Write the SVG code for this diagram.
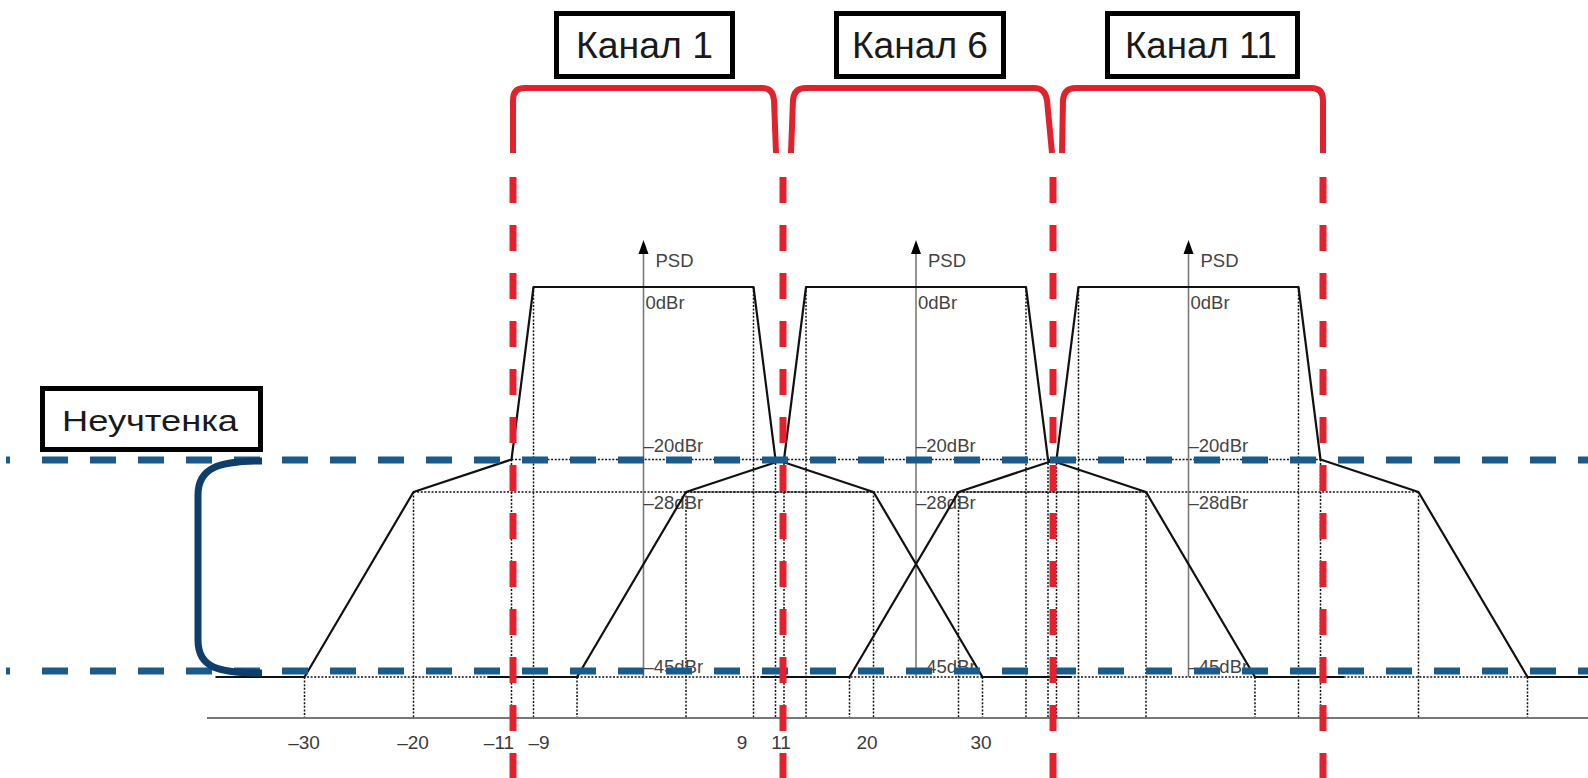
<svg xmlns="http://www.w3.org/2000/svg" width="1588" height="778" viewBox="0 0 1588 778">
<style>
.box{fill:#fff;stroke:#000;stroke-width:5}
.boxtxt{font-family:"Liberation Sans",Arial,sans-serif;font-size:36px;fill:#1a1a1a;text-anchor:middle}
.lbl{font-family:"Liberation Sans",Arial,sans-serif;font-size:18.5px;fill:#444}
.tick{font-family:"Liberation Sans",Arial,sans-serif;font-size:19px;fill:#3a3a3a;text-anchor:middle}
.dot{stroke:#111;stroke-width:1.5;stroke-dasharray:2 1.6;fill:none}
.curve{stroke:#111;stroke-width:2.2;fill:none;stroke-linejoin:round}
.axis{stroke:#7a7a7a;stroke-width:1.6;fill:none}
.blue{stroke:#1a5b8c;stroke-width:7;stroke-dasharray:26 22;fill:none}
.red{stroke:#e1212c;stroke-width:7;stroke-dasharray:26 22;fill:none}
.brk{stroke:#e1212c;stroke-width:6;fill:none;stroke-linejoin:round}
</style>
<defs>
<g id="mask-dots">
<line class="dot" x1="-110" y1="287" x2="-110" y2="718"/>
<line class="dot" x1="110" y1="287" x2="110" y2="718"/>
<line class="dot" x1="-132" y1="459.5" x2="-132" y2="718"/>
<line class="dot" x1="132" y1="459.5" x2="132" y2="718"/>
<line class="dot" x1="-230" y1="492" x2="-230" y2="718"/>
<line class="dot" x1="230" y1="492" x2="230" y2="718"/>
<line class="dot" x1="-339" y1="677" x2="-339" y2="718"/>
<line class="dot" x1="339" y1="677" x2="339" y2="718"/>
<line class="dot" x1="-230" y1="492" x2="230" y2="492"/>
<line class="dot" x1="-132" y1="459.5" x2="132" y2="459.5"/>
</g>
<g id="mask-axis">
<line class="axis" x1="0" y1="252" x2="0" y2="677"/>
<polygon points="0,240 -5,254 5,254" fill="#000"/>
<text class="lbl" x="12" y="267">PSD</text>
<text class="lbl" x="2" y="309">0dBr</text>
<text class="lbl" x="0" y="452">–20dBr</text>
<text class="lbl" x="0" y="509">–28dBr</text>
<text class="lbl" x="0" y="673">–45dBr</text>
</g>
<path id="mask-curve" class="curve" d="M -428 677 L -339 677 L -230 492 L -132 459.5 L -110 287 L 110 287 L 132 459.5 L 230 492 L 339 677 L 428 677"/>
</defs>

<g id="grid">
<line class="dot" x1="217" y1="677" x2="1588" y2="677"/>
<use href="#mask-dots" transform="translate(643.5,0)"/>
<use href="#mask-dots" transform="translate(916,0)"/>
<use href="#mask-dots" transform="translate(1188.5,0)"/>
</g>

<g id="x-axis">
<line x1="207" y1="718" x2="1588" y2="718" stroke="#777" stroke-width="2"/>
<text class="tick" x="304" y="749">–30</text>
<text class="tick" x="413" y="749">–20</text>
<text class="tick" x="499" y="749">–11</text>
<text class="tick" x="539" y="749">–9</text>
<text class="tick" x="742" y="749">9</text>
<text class="tick" x="781" y="749">11</text>
<text class="tick" x="867" y="749">20</text>
<text class="tick" x="981" y="749">30</text>
</g>

<g id="psd-axes">
<use href="#mask-axis" transform="translate(643.5,0)"/>
<use href="#mask-axis" transform="translate(916,0)"/>
<use href="#mask-axis" transform="translate(1188.5,0)"/>
</g>

<g id="spectrum-masks">
<use href="#mask-curve" transform="translate(643.5,0)"/>
<use href="#mask-curve" transform="translate(916,0)"/>
<use href="#mask-curve" transform="translate(1188.5,0)"/>
</g>

<g id="connectors">
<line x1="6" y1="460" x2="10" y2="460" stroke="#1a5b8c" stroke-width="7"/>
<line class="blue" x1="42" y1="460" x2="1588" y2="460"/>
<line x1="6" y1="671" x2="10" y2="671" stroke="#1a5b8c" stroke-width="7"/>
<line class="blue" x1="42" y1="671" x2="1588" y2="671"/>
<path d="M 262 461 C 218 461 198 468 198 495 L 198 640 C 198 668 218 673 262 673" fill="none" stroke="#0f3e6c" stroke-width="7"/>
<line class="red" x1="513" y1="177" x2="513" y2="778"/>
<line class="red" x1="783" y1="177" x2="783" y2="778"/>
<line class="red" x1="1053" y1="177" x2="1053" y2="778"/>
<line class="red" x1="1323" y1="177" x2="1323" y2="778"/>
<path class="brk" d="M 513 153 L 513 100 Q 513 88 525 88 L 762 88 Q 773 88 774 100 L 776 153"/>
<path class="brk" d="M 791 153 L 793 100 Q 794 88 806 88 L 1034 88 Q 1045 88 1047 100 L 1052 153"/>
<path class="brk" d="M 1062 153 L 1063 100 Q 1064 88 1076 88 L 1311 88 Q 1323 88 1323 100 L 1323 153"/>
</g>

<g id="node-kanal-1">
<rect class="box" x="556.5" y="13.5" width="176" height="63"/>
<text class="boxtxt" x="644.5" y="58" textLength="137" lengthAdjust="spacingAndGlyphs">Канал 1</text>
</g>
<g id="node-kanal-6">
<rect class="box" x="836.5" y="13.5" width="167" height="63"/>
<text class="boxtxt" x="920" y="58" textLength="136" lengthAdjust="spacingAndGlyphs">Канал 6</text>
</g>
<g id="node-kanal-11">
<rect class="box" x="1107.5" y="13.5" width="190" height="63"/>
<text class="boxtxt" x="1201" y="58" textLength="152" lengthAdjust="spacingAndGlyphs">Канал 11</text>
</g>
<g id="node-neuchtenka">
<rect class="box" x="42.5" y="388.5" width="218" height="61"/>
<text class="boxtxt" x="150" y="431" style="font-size:29px" textLength="176" lengthAdjust="spacingAndGlyphs">Неучтенка</text>
</g>
</svg>
